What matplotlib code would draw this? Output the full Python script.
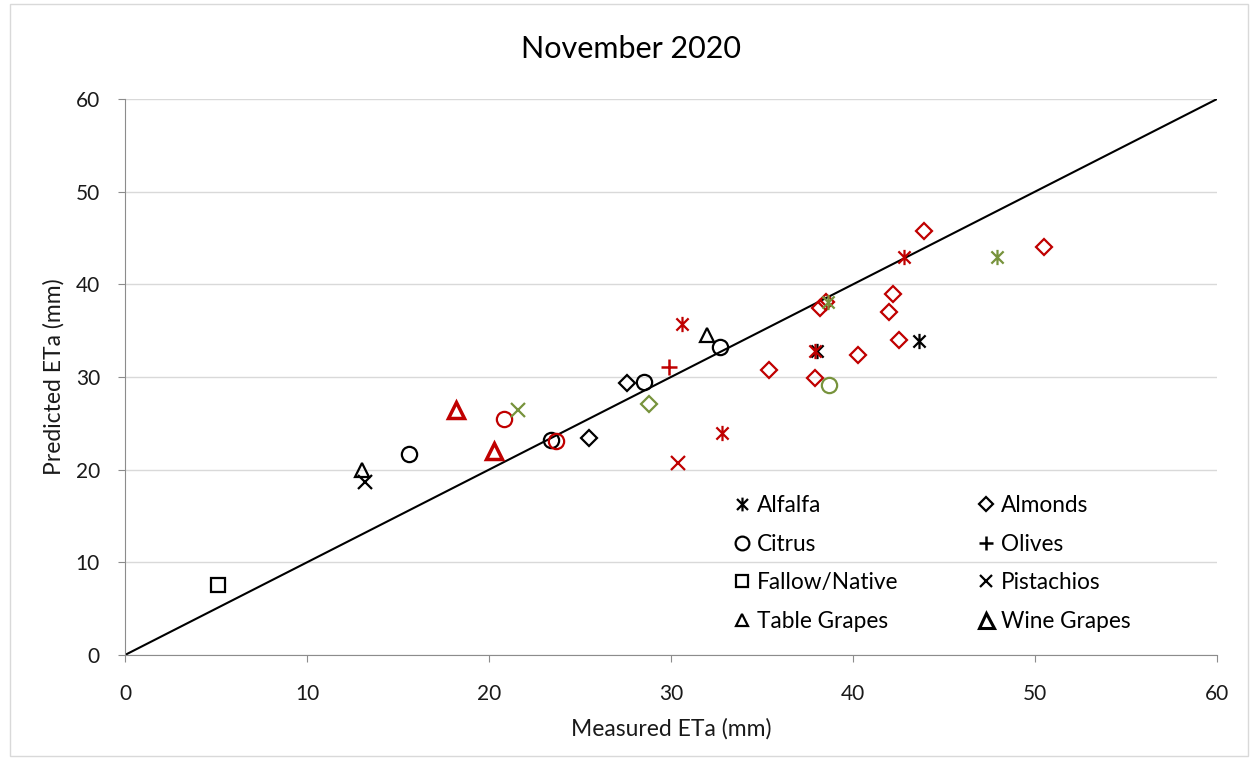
import numpy as np
import matplotlib.pyplot as plt
from matplotlib.path import Path
from matplotlib.lines import Line2D
from matplotlib.patches import Rectangle

plt.rcParams['font.family'] = ['Lato', 'DejaVu Sans']

# measured, predicted ETa (mm), crop, colour group
meas = [5.1, 13.0, 13.2, 15.6, 23.4, 25.5, 27.6, 28.5, 32.0, 32.7, 38.0, 43.6,
        18.2, 20.3, 20.8, 23.7, 29.9, 30.6, 30.4, 32.8, 35.4, 37.9, 37.9, 38.2,
        38.5, 40.3, 42.0, 42.2, 42.5, 42.8, 43.9, 50.5,
        21.6, 28.8, 38.6, 38.7, 47.9]
pred = [7.55, 20.0, 18.7, 21.7, 23.2, 23.4, 29.3, 29.5, 34.5, 33.2, 32.8, 33.9,
        26.4, 22.0, 25.5, 23.1, 31.1, 35.7, 20.7, 24.0, 30.8, 29.9, 32.8, 37.4,
        38.1, 32.4, 37.0, 39.0, 34.0, 43.0, 45.8, 44.0,
        26.4, 27.1, 38.1, 29.1, 43.0]
crop = ['Fallow/Native', 'Table Grapes', 'Pistachios', 'Citrus', 'Citrus', 'Almonds',
        'Almonds', 'Citrus', 'Table Grapes', 'Citrus', 'Alfalfa', 'Alfalfa',
        'Wine Grapes', 'Wine Grapes', 'Citrus', 'Citrus', 'Olives', 'Alfalfa',
        'Pistachios', 'Alfalfa', 'Almonds', 'Almonds', 'Alfalfa', 'Almonds',
        'Almonds', 'Almonds', 'Almonds', 'Almonds', 'Almonds', 'Alfalfa',
        'Almonds', 'Almonds',
        'Pistachios', 'Almonds', 'Alfalfa', 'Citrus', 'Alfalfa']
group = ['k'] * 12 + ['r'] * 20 + ['g'] * 5

colors = {'k': 'black', 'r': '#C00000', 'g': '#77933C'}

star = Path([(0, -1), (0, 1), (-0.8, -0.8), (0.8, 0.8), (-0.8, 0.8), (0.8, -0.8)],
            [Path.MOVETO, Path.LINETO, Path.MOVETO, Path.LINETO, Path.MOVETO, Path.LINETO])

# marker, size, edge width, line-type marker?
styles = {
    'Alfalfa': (star, 11, 1.6, True),
    'Almonds': ('D', 8, 1.6, False),
    'Citrus': ('o', 11, 1.6, False),
    'Olives': ('+', 11, 1.8, True),
    'Fallow/Native': ('s', 10, 1.6, False),
    'Pistachios': ('x', 10, 1.6, True),
    'Table Grapes': ('^', 10, 1.6, False),
    'Wine Grapes': ('^', 12, 2.5, False),
}
order = ['Alfalfa', 'Citrus', 'Fallow/Native', 'Table Grapes',
         'Almonds', 'Olives', 'Pistachios', 'Wine Grapes']

fig = plt.figure(figsize=(12.5, 7.64), dpi=100)
ax = fig.add_axes([0.1, 0.1427, 0.8736, 0.7277])

ax.plot([0, 60], [0, 60], color='black', lw=1.5, zorder=2)

for xm, yp, c, g in zip(meas, pred, crop, group):
    m, ms, mew, line = styles[c]
    col = colors[g]
    ax.plot(xm, yp, linestyle='none', marker=m, markersize=ms, markeredgewidth=mew,
            markeredgecolor=col, markerfacecolor='none' if not line else col, zorder=3)

ax.set_xlim(0, 60)
ax.set_ylim(0, 60)
ax.set_xticks(np.arange(0, 61, 10))
ax.set_yticks(np.arange(0, 61, 10))
ax.yaxis.grid(True, color='#d9d9d9', lw=1)
ax.set_axisbelow(True)
for s in ['top', 'right']:
    ax.spines[s].set_visible(False)
ax.spines['left'].set_color('#8c8c8c')
ax.spines['bottom'].set_color('#8c8c8c')
ax.tick_params(labelsize=15, length=5, color='#8c8c8c', labelcolor='#1a1a1a')
ax.tick_params(axis='x', pad=16)
ax.tick_params(axis='y', pad=13)

ax.set_xlabel('Measured ETa (mm)', fontsize=16.5, color='#1a1a1a', labelpad=10)
ax.set_ylabel('Predicted ETa (mm)', fontsize=16.5, color='#1a1a1a', labelpad=8)
fig.text(0.505, 0.936, 'November 2020', fontsize=22, ha='center', va='center')

handles = []
for c in order:
    m, ms, mew, line = styles[c]
    handles.append(Line2D([], [], linestyle='none', marker=m, markersize=ms * 0.9,
                          markeredgewidth=mew if c != 'Wine Grapes' else 2.2,
                          markeredgecolor='black',
                          markerfacecolor='none' if not line else 'black', label=c))
ax.legend(handles=handles, ncol=2, loc='lower left', bbox_to_anchor=(0.54, 0.005),
          frameon=False, fontsize=16.3, handlelength=0.6, handletextpad=0.35,
          columnspacing=3.6, labelspacing=0.78)

fig.patches.append(Rectangle((0.008, 0.01), 0.99, 0.985, transform=fig.transFigure,
                             fill=False, edgecolor='#d9d9d9', lw=1))

fig.savefig('out.png', dpi=100)
